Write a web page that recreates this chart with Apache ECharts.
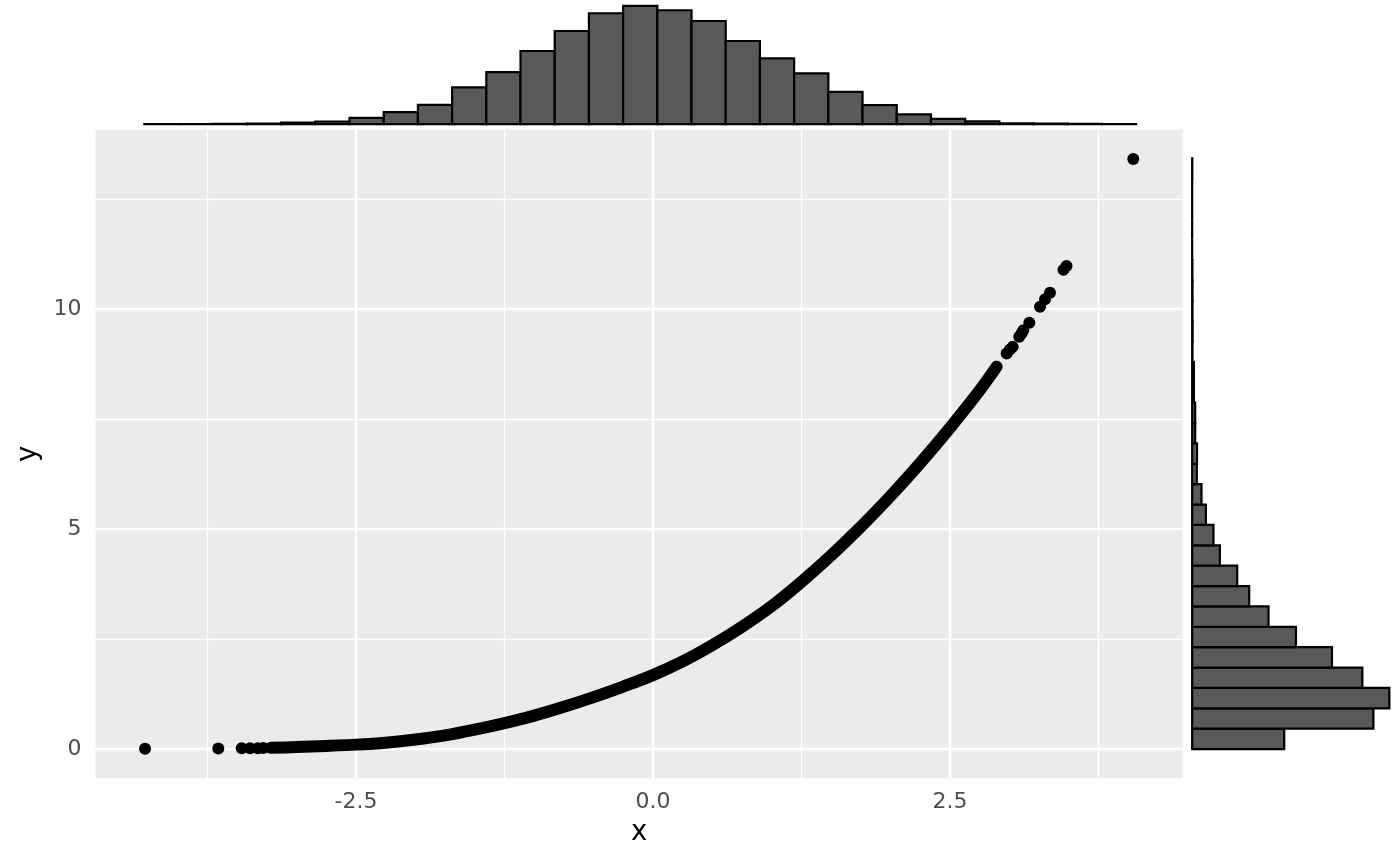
<!DOCTYPE html>
<html>
<head>
<meta charset="utf-8">
<script src="https://cdn.jsdelivr.net/npm/echarts@6/dist/echarts.min.js"></script>
<style>
  html, body { margin: 0; padding: 0; background: #ffffff; }
  #chart { width: 1400px; height: 866px; }
</style>
</head>
<body>
<div id="chart"></div>
<script>
// ---------- data ----------
// dense band of points (centre of band), x and y
const curveX = [-3.215, -3.0, -2.75, -2.5, -2.25, -2.0, -1.75, -1.5, -1.25, -1.0, -0.75, -0.5, -0.25, 0.0, 0.25, 0.5, 0.75, 1.0, 1.25, 1.5, 1.75, 2.0, 2.25, 2.5, 2.75, 2.893];
const curveY = [0.028, 0.045, 0.07, 0.10, 0.145, 0.215, 0.31, 0.44, 0.59, 0.76, 0.96, 1.18, 1.42, 1.68, 1.99, 2.36, 2.78, 3.25, 3.8, 4.4, 5.05, 5.75, 6.5, 7.3, 8.15, 8.69];
// isolated points at both tails
const isoX = [-4.276, -3.659, -3.462, -3.392, -3.327, -3.28, 2.977, 3.005, 3.028, 3.083, 3.103, 3.117, 3.168, 3.258, 3.30, 3.342, 3.455, 3.481, 4.043];
const isoY = [0.005, 0.012, 0.016, 0.018, 0.02, 0.024, 8.99, 9.08, 9.14, 9.37, 9.45, 9.52, 9.69, 10.05, 10.22, 10.37, 10.89, 10.98, 13.41];

// top marginal histogram of x (29 bins)
const xBinStart = -4.282;
const xBinWidth = 0.2879;
const xCounts = [1, 0, 2, 5, 15, 25, 61, 116, 187, 356, 504, 708, 902, 1074, 1145, 1103, 999, 805, 637, 492, 313, 184, 94, 50, 26, 8, 5, 2, 1];

// right marginal histogram of y (29 bins)
const yBinStart = 0.0;
const yBinWidth = 0.463;
const yCounts = [791, 1557, 1694, 1462, 1201, 892, 656, 490, 387, 238, 183, 118, 80, 40, 42, 26, 26, 15, 15, 3, 4, 3, 3, 2, 0, 0, 0, 0, 1];

// ticks
const xTicks = [-2.5, 0, 2.5];
const xTickLabels = ['-2.5', '0.0', '2.5'];
const xMinor = [-3.75, -1.25, 1.25, 3.75];
const yTicks = [0, 5, 10];
const yTickLabels = ['0', '5', '10'];
const yMinor = [2.5, 7.5, 12.5];

// ---------- build ----------
const allX = curveX.concat(isoX);
const allY = curveY.concat(isoY);
const xlo = Math.min(...allX), xhi = Math.max(...allX);
const ylo = Math.min(...allY), yhi = Math.max(...allY);
const xMin = xlo - 0.05 * (xhi - xlo), xMax = xhi + 0.05 * (xhi - xlo);
const yMin = ylo - 0.05 * (yhi - ylo), yMax = yhi + 0.05 * (yhi - ylo);
const xcMax = Math.max(...xCounts), ycMax = Math.max(...yCounts);

const curveData = curveX.map((x, i) => [x, curveY[i]]);
const isoData = isoX.map((x, i) => [x, isoY[i]]);
const xHist = xCounts.map((c, i) => [xBinStart + i * xBinWidth, xBinStart + (i + 1) * xBinWidth, c]);
const yHist = yCounts.map((c, i) => [yBinStart + i * yBinWidth, yBinStart + (i + 1) * yBinWidth, c]);

const FONT = 'DejaVu Sans';
const BAR_FILL = '#595959';

const gridLines = []
  .concat(xMinor.map(v => ({ xAxis: v, lineStyle: { width: 1.3 } })))
  .concat(yMinor.map(v => ({ yAxis: v, lineStyle: { width: 1.3 } })))
  .concat(xTicks.map(v => ({ xAxis: v, lineStyle: { width: 2.4 } })))
  .concat(yTicks.map(v => ({ yAxis: v, lineStyle: { width: 2.4 } })));

const chart = echarts.init(document.getElementById('chart'), null, { renderer: 'canvas' });

const option = {
  animation: false,
  backgroundColor: '#ffffff',
  textStyle: { fontFamily: FONT },
  grid: [
    { left: 95.6, top: 129.5, width: 1087.1, height: 648.8, show: true, backgroundColor: '#EBEBEB', borderWidth: 0 },
    { left: 95.6, top: 0, width: 1087.1, height: 130, show: false },
    { left: 1182.3, top: 129.5, width: 216.9, height: 648.8, show: false }
  ],
  xAxis: [
    {
      gridIndex: 0, type: 'value', min: xMin, max: xMax,
      axisLine: { show: false },
      splitLine: { show: false },
      axisTick: { show: true, customValues: xTicks, length: 7, lineStyle: { color: '#333333', width: 2 } },
      axisLabel: {
        customValues: xTicks, margin: 13, fontSize: 22, color: '#4D4D4D', fontFamily: FONT,
        formatter: v => xTickLabels[xTicks.findIndex(t => Math.abs(t - v) < 1e-9)]
      },
      name: 'x', nameLocation: 'middle', nameGap: 41,
      nameTextStyle: { fontSize: 27.5, color: '#000000', fontFamily: FONT }
    },
    { gridIndex: 1, type: 'value', min: xMin, max: xMax, show: false },
    { gridIndex: 2, type: 'value', min: -0.05 * ycMax, max: 1.05 * ycMax, show: false }
  ],
  yAxis: [
    {
      gridIndex: 0, type: 'value', min: yMin, max: yMax,
      axisLine: { show: false },
      splitLine: { show: false },
      axisTick: { show: true, customValues: yTicks, length: 7, lineStyle: { color: '#333333', width: 2 } },
      axisLabel: {
        customValues: yTicks, margin: 14, fontSize: 22, color: '#4D4D4D', fontFamily: FONT,
        formatter: v => yTickLabels[yTicks.findIndex(t => Math.abs(t - v) < 1e-9)]
      },
      name: 'y', nameLocation: 'middle', nameGap: 50,
      nameTextStyle: { fontSize: 27.5, color: '#000000', fontFamily: FONT }
    },
    { gridIndex: 1, type: 'value', min: -0.05 * xcMax, max: 1.05 * xcMax, show: false },
    { gridIndex: 2, type: 'value', min: yMin, max: yMax, show: false }
  ],
  series: [
    {
      type: 'line', xAxisIndex: 0, yAxisIndex: 0, data: [], z: 1, silent: true,
      markLine: {
        z: 1, silent: true, symbol: ['none', 'none'], label: { show: false },
        lineStyle: { color: '#FFFFFF', type: 'solid' },
        emphasis: { disabled: true },
        data: gridLines
      }
    },
    {
      type: 'line', xAxisIndex: 0, yAxisIndex: 0, data: curveData, z: 6,
      smooth: 0.3, showSymbol: false, silent: true,
      lineStyle: { color: '#000000', width: 12, cap: 'round', join: 'round', opacity: 1 }
    },
    {
      type: 'scatter', xAxisIndex: 0, yAxisIndex: 0, data: isoData, z: 7,
      symbol: 'circle', symbolSize: 12, silent: true,
      itemStyle: { color: '#000000', opacity: 1 }
    },
    {
      type: 'custom', xAxisIndex: 1, yAxisIndex: 1, data: xHist, silent: true,
      encode: { x: [0, 1], y: 2 },
      renderItem: (params, api) => {
        const p0 = api.coord([api.value(0), 0]);
        const p1 = api.coord([api.value(1), api.value(2)]);
        return {
          type: 'rect',
          shape: { x: p0[0], y: p1[1], width: p1[0] - p0[0], height: p0[1] - p1[1] },
          style: { fill: BAR_FILL, stroke: '#000000', lineWidth: 2.2 }
        };
      }
    },
    {
      type: 'custom', xAxisIndex: 2, yAxisIndex: 2, data: yHist, silent: true,
      encode: { y: [0, 1], x: 2 },
      renderItem: (params, api) => {
        const p0 = api.coord([0, api.value(0)]);
        const p1 = api.coord([api.value(2), api.value(1)]);
        return {
          type: 'rect',
          shape: { x: p0[0], y: p1[1], width: p1[0] - p0[0], height: p0[1] - p1[1] },
          style: { fill: BAR_FILL, stroke: '#000000', lineWidth: 2.2 }
        };
      }
    }
  ]
};

chart.setOption(option);
</script>
</body>
</html>
